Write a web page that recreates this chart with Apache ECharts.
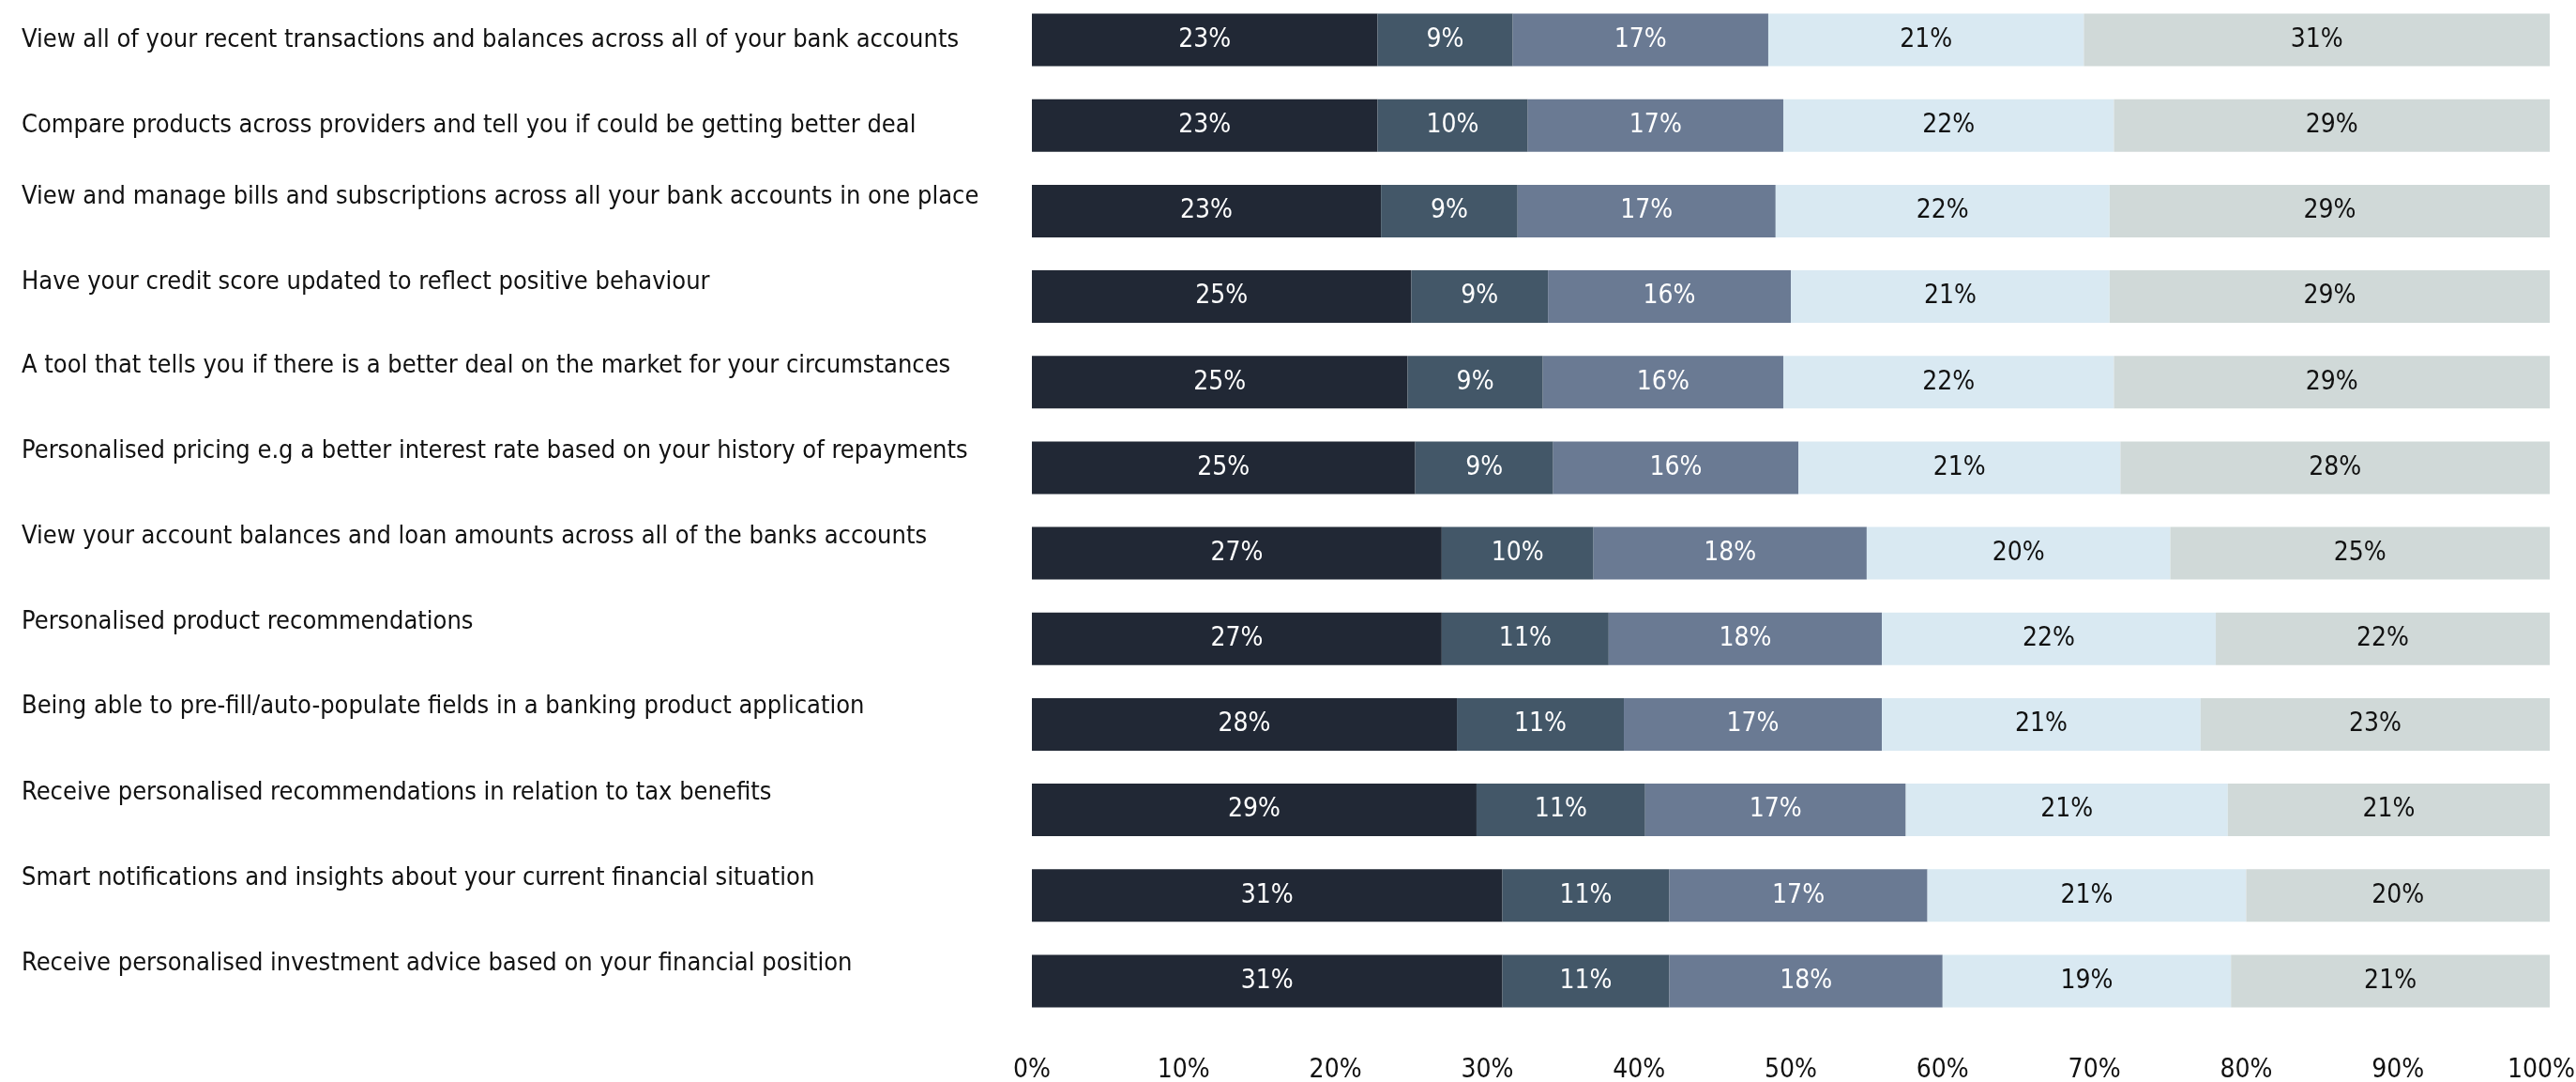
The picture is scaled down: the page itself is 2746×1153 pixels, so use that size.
<!DOCTYPE html>
<html>
<head>
<meta charset="utf-8">
<title>Interest in banking features</title>
<script src="https://cdn.jsdelivr.net/npm/echarts@6/dist/echarts.min.js"></script>
<style>
  html, body { margin: 0; padding: 0; background: #ffffff; }
  #chart { width: 2746px; height: 1153px; }
</style>
</head>
<body>
<div id="chart"></div>
<script>
// Feature statements, top to bottom
const features = [
  'View all of your recent transactions and balances across all of your bank accounts',
  'Compare products across providers and tell you if could be getting better deal',
  'View and manage bills and subscriptions across all your bank accounts in one place',
  'Have your credit score updated to reflect positive behaviour',
  'A tool that tells you if there is a better deal on the market for your circumstances',
  'Personalised pricing e.g a better interest rate based on your history of repayments',
  'View your account balances and loan amounts across all of the banks accounts',
  'Personalised product recommendations',
  'Being able to pre-fill/auto-populate fields in a banking product application',
  'Receive personalised recommendations in relation to tax benefits',
  'Smart notifications and insights about your current financial situation',
  'Receive personalised investment advice based on your financial position'
];

// Response shares (%) per feature, one array per answer band
const band1 = [23, 23, 23, 25, 25, 25, 27, 27, 28, 29, 31, 31];
const band2 = [9, 10, 9, 9, 9, 9, 10, 11, 11, 11, 11, 11];
const band3 = [17, 17, 17, 16, 16, 16, 18, 18, 17, 17, 17, 18];
const band4 = [21, 22, 22, 21, 22, 21, 20, 22, 21, 21, 21, 19];
const band5 = [31, 29, 29, 29, 29, 28, 25, 22, 23, 21, 20, 21];

// Axis tick labels
const tickLabels = ['0%', '10%', '20%', '30%', '40%', '50%', '60%', '70%', '80%', '90%', '100%'];

const bands = [band1, band2, band3, band4, band5];
const bandColors = ['#212835', '#435768', '#6a7a93', '#d9e9f2', '#d0d9d8'];
const labelColors = ['#ffffff', '#ffffff', '#ffffff', '#111111', '#111111'];

const FONT = '"Liberation Sans Narrow", "DejaVu Sans Condensed", "Open Sans", sans-serif';

// Each bar is drawn as a share of its row total so every row spans the full width
const rowTotals = features.map((_, i) => bands.reduce((s, b) => s + b[i], 0));

// Upward nudge (px) for each category label
const labelLift = [0, 0, 15, 15, 17, 17, 18, 18, 19, 18, 18, 18];
const rich = {};
labelLift.forEach((lift, i) => {
  rich['r' + i] = {
    fontFamily: FONT, fontSize: 27, color: '#111111',
    padding: [0, 0, lift * 2, 0]
  };
});

const series = bands.map((band, k) => ({
  type: 'bar',
  stack: 'total',
  barWidth: 56,
  itemStyle: { color: bandColors[k] },
  label: {
    show: true,
    position: 'inside',
    color: labelColors[k],
    fontFamily: FONT,
    fontSize: 28,
    formatter: p => band[p.dataIndex] + '%'
  },
  data: band.map((v, i) => v / rowTotals[i] * 100)
}));

const chart = echarts.init(document.getElementById('chart'), null, { renderer: 'canvas' });
chart.setOption({
  animation: false,
  backgroundColor: '#ffffff',
  grid: {
    left: 1100, right: 28, top: -3, height: 1094,
    containLabel: false,
    outerBoundsMode: 'none'
  },
  xAxis: {
    type: 'value',
    min: 0,
    max: 100,
    interval: 10,
    axisLine: { show: false },
    axisTick: { show: false },
    splitLine: { show: false },
    axisLabel: {
      margin: 36,
      fontFamily: FONT,
      fontSize: 28,
      color: '#111111',
      formatter: v => {
        const t = tickLabels[Math.round(v / 10)];
        return v === 100 ? '{last|' + t + '}' : t;
      },
      rich: {
        last: { fontFamily: FONT, fontSize: 28, color: '#111111', padding: [0, 18, 0, 0] }
      }
    }
  },
  yAxis: {
    type: 'category',
    inverse: true,
    data: features,
    axisLine: { show: false },
    axisTick: { show: false },
    splitLine: { show: false },
    axisLabel: {
      align: 'left',
      margin: 1077,
      formatter: (v, i) => '{r' + i + '|' + v + '}',
      rich: rich
    }
  },
  series: series
});
</script>
</body>
</html>
